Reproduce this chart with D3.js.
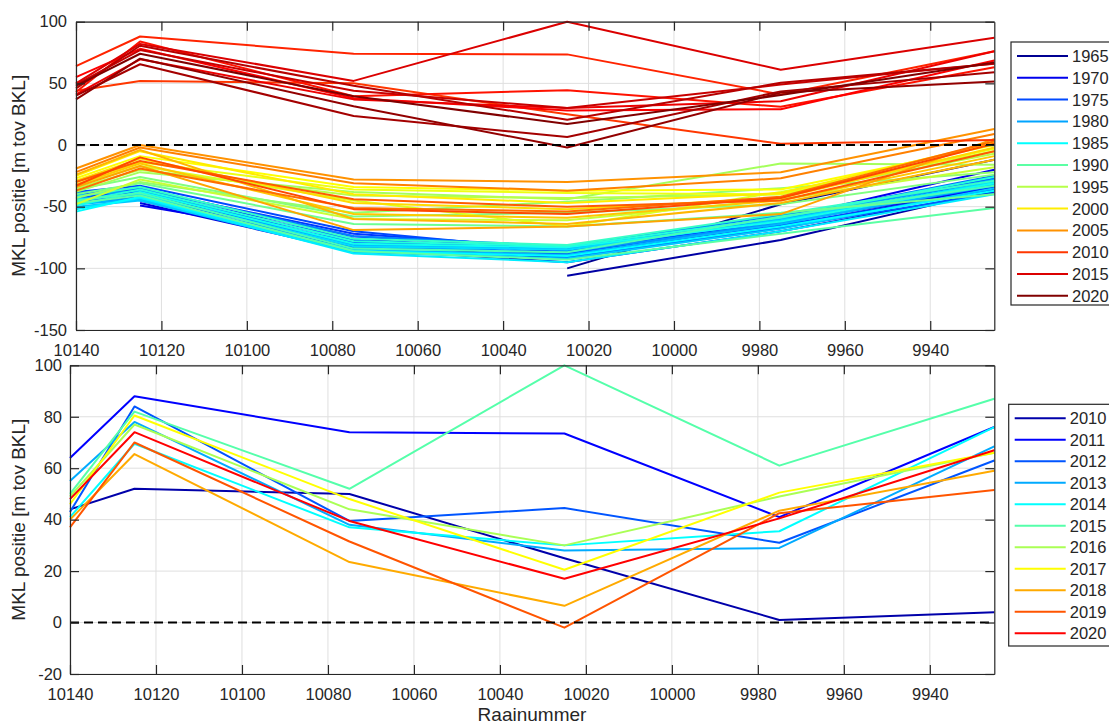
<!DOCTYPE html>
<html>
<head>
<meta charset="utf-8">
<script src="https://cdn.jsdelivr.net/npm/d3@7"></script>
<style>
    body { margin: 0; background: #fff; }
    svg { display: block; font-family: "Liberation Sans", Arial, sans-serif; }
</style>
</head>
<body>
<div id="chart"></div>
<script>
// raai positions (x) and tick values
const positions = [10140, 10125, 10075, 10025, 9975, 9925];
const xTicks = [10140, 10120, 10100, 10080, 10060, 10040, 10020, 10000, 9980, 9960, 9940];
const yTicksTop = [-150, -100, -50, 0, 50, 100];
const yTicksBottom = [-20, 0, 20, 40, 60, 80, 100];
const legendYearsTop = [1965, 1970, 1975, 1980, 1985, 1990, 1995, 2000, 2005, 2010, 2015, 2020];

// MKL positie 1965-2009 [m tov BKL], one row per year, values at positions
const yearsOld = [1965, 1966, 1967, 1968, 1969, 1970, 1971, 1972, 1973, 1974, 1975, 1976, 1977, 1978, 1979,
    1980, 1981, 1982, 1983, 1984, 1985, 1986, 1987, 1988, 1989, 1990, 1991, 1992, 1993, 1994,
    1995, 1996, 1997, 1998, 1999, 2000, 2001, 2002, 2003, 2004, 2005, 2006, 2007, 2008, 2009];
const mklOld = [
    [null, null, null, -100, -48, -12],
    [null, null, null, -106, -77, -37],
    [null, null, -80, -92, -66, -34],
    [null, -45, -84, -95, -70, -38],
    [null, -47, -86, -90, -64, -28],
    [null, -49, -78, -89, -60, -20],
    [-44, -40, -76, -87, -62, -30],
    [-42, -38, -74, -85, -63, -34],
    [-46, -42, -80, -88, -58, -27],
    [-40, -36, -72, -84, -61, -31],
    [-38, -33, -70, -86, -65, -36],
    [-43, -39, -77, -91, -67, -39],
    [-45, -41, -79, -83, -59, -25],
    [-39, -35, -74, -82, -57, -29],
    [-47, -43, -83, -87, -63, -33],
    [-41, -37, -81, -84, -60, -28],
    [-48, -44, -85, -89, -64, -32],
    [-50, -45, -87, -92, -68, -35],
    [-44, -40, -82, -85, -61, -30],
    [-52, -43, -88, -95, -70, -40],
    [-54, -42, -86, -90, -66, -37],
    [-49, -38, -80, -83, -62, -31],
    [-46, -36, -78, -82, -59, -26],
    [-42, -34, -76, -81, -56, -29],
    [-45, -39, -84, -87, -58, -33],
    [-47, -41, -86, -93, -72, -51],
    [-40, -31, -64, -66, -55, -40],
    [-36, -26, -58, -55, -48, -24],
    [-43, -30, -55, -46, -35, -22],
    [-38, -22, -38, -44, -15, -16],
    [-35, -20, -41, -43, -40, -7],
    [-48, -28, -60, -61, -44, -18],
    [-33, -17, -45, -66, -38, -5],
    [-30, -14, -36, -39, -40, -3],
    [-27, -9, -34, -37, -36, 0],
    [-25, -5, -40, -47, -39, 2],
    [-29, -11, -47, -52, -43, -2],
    [-32, -15, -56, -59, -45, -9],
    [-24, -4, -60, -64, -47, -12],
    [-34, -17, -69, -66, -56, 5],
    [-19, 0, -28, -30, -22, 13],
    [-22, -2, -31, -37, -27, 9],
    [-37, -19, -51, -54, -42, 3],
    [-30, -13, -44, -50, -45, -5],
    [-33, -10, -52, -56, -43, 1]
];

// MKL positie 2010-2020 [m tov BKL]
const yearsNew = [2010, 2011, 2012, 2013, 2014, 2015, 2016, 2017, 2018, 2019, 2020];
const mklNew = [
    [44, 52, 50, 25, 1, 4],
    [64, 88, 74, 73.5, 41, 76],
    [43, 84, 39.5, 44.5, 31, 63],
    [55, 78, 38, 28, 29, 68.5],
    [41, 69.5, 37, 30, 35.5, 76],
    [50, 82, 52, 100, 61, 87],
    [49, 77, 44, 30, 49, 66],
    [46, 80.5, 48, 20.5, 50.5, 66],
    [40, 65.5, 23.5, 6.5, 43.5, 59],
    [37, 70, 31.5, -2, 42.5, 51.5],
    [48, 74, 39.5, 17, 40.5, 67]
];

// matlab style jet(m)
function jet(m) {
    const n = Math.ceil(m / 4);
    const u = [];
    for (let i = 1; i <= n; i++) u.push(i / n);
    for (let i = 1; i < n; i++) u.push(1);
    for (let i = n; i >= 1; i--) u.push(i / n);
    const off = Math.ceil(n / 2) - (m % 4 === 1 ? 1 : 0);
    const J = d3.range(m).map(() => [0, 0, 0]);
    const g = u.map((_, i) => off + i + 1).filter(v => v <= m);
    const r = g.map(v => v + n).filter(v => v <= m);
    const b = u.map((_, i) => off + i + 1 - n).filter(v => v >= 1);
    r.forEach((idx, i) => J[idx - 1][0] = u[i]);
    g.forEach((idx, i) => J[idx - 1][1] = u[i]);
    b.forEach((idx, i) => J[idx - 1][2] = u[u.length - b.length + i]);
    return J.map(c => d3.rgb(c[0] * 255, c[1] * 255, c[2] * 255).formatHex());
}

const jetAll = jet(2020 - 1965 + 1);
const jetNew = jet(yearsNew.length);
const ink = '#262626';
const plain = d => String(d);   // hyphen minus like matlab

const svg = d3.select('#chart')
    .append('svg')
    .attr('width', 1109)
    .attr('height', 726);

function panel(cfg) {
    const x = d3.scaleLinear().domain([10140, 9925]).range([cfg.left, 994.3]);
    const y = d3.scaleLinear().domain(cfg.yDomain).range([cfg.bottom, cfg.top]);
    const g = svg.append('g');

    // grid
    g.selectAll('.gx').data(xTicks).enter().append('line')
        .attr('x1', d => x(d)).attr('x2', d => x(d))
        .attr('y1', cfg.top).attr('y2', cfg.bottom)
        .attr('stroke', '#dfdfdf').attr('stroke-width', 1);
    g.selectAll('.gy').data(cfg.yTicks).enter().append('line')
        .attr('x1', cfg.left).attr('x2', 994.3)
        .attr('y1', d => y(d)).attr('y2', d => y(d))
        .attr('stroke', '#dfdfdf').attr('stroke-width', 1);

    const line = d3.line()
        .defined(d => d[1] != null)
        .x(d => x(d[0]))
        .y(d => y(d[1]));

    g.selectAll('.series').data(cfg.series).enter().append('path')
        .attr('d', s => line(positions.map((p, i) => [p, s.values[i]])))
        .attr('fill', 'none')
        .attr('stroke', s => s.color)
        .attr('stroke-width', 2)
        .attr('stroke-linejoin', 'round');

    g.append('line')
        .attr('x1', cfg.left).attr('x2', 994.3)
        .attr('y1', y(0)).attr('y2', y(0))
        .attr('stroke', '#000').attr('stroke-width', 2)
        .attr('stroke-dasharray', '9,5');

    const axes = [
        g.append('g').attr('transform', `translate(0,${cfg.bottom})`)
            .call(d3.axisBottom(x).tickValues(xTicks).tickFormat(plain)
                .tickSizeInner(-9).tickSizeOuter(0).tickPadding(14)),
        g.append('g').attr('transform', `translate(0,${cfg.top})`)
            .call(d3.axisTop(x).tickValues(xTicks).tickFormat('')
                .tickSizeInner(-9).tickSizeOuter(0)),
        g.append('g').attr('transform', `translate(${cfg.left},0)`)
            .call(d3.axisLeft(y).tickValues(cfg.yTicks).tickFormat(plain)
                .tickSizeInner(-9).tickSizeOuter(0).tickPadding(cfg.pad)),
        g.append('g').attr('transform', 'translate(994.3,0)')
            .call(d3.axisRight(y).tickValues(cfg.yTicks).tickFormat('')
                .tickSizeInner(-9).tickSizeOuter(0))
    ];
    axes.forEach(a => {
        a.attr('font-family', null).attr('font-size', 16.5);
        a.select('.domain').attr('stroke', ink).attr('stroke-width', 1.2);
        a.selectAll('.tick line').attr('stroke', ink).attr('stroke-width', 1.2);
        a.selectAll('.tick text').attr('fill', ink);
    });

    g.append('text')
        .attr('transform', `translate(25,${(cfg.top + cfg.bottom) / 2}) rotate(-90)`)
        .attr('text-anchor', 'middle')
        .attr('fill', ink)
        .style('font-size', '19px')
        .text('MKL positie [m tov BKL]');

    // legend
    const lg = svg.append('g');
    lg.append('rect')
        .attr('x', cfg.lx).attr('y', cfg.ly)
        .attr('width', 120).attr('height', cfg.lh)
        .attr('fill', '#fff').attr('stroke', ink).attr('stroke-width', 1.2);
    const items = lg.selectAll('.item').data(cfg.legend).enter().append('g')
        .attr('transform', (d, i) => `translate(${cfg.lx},${cfg.ly + cfg.l0 + i * cfg.ldy})`);
    items.append('line')
        .attr('x1', 6).attr('x2', 57)
        .attr('stroke', d => d.color).attr('stroke-width', 2);
    items.append('text')
        .attr('x', 61).attr('y', 6)
        .attr('fill', ink)
        .style('font-size', '16.5px')
        .text(d => d.year);
}

const seriesTop = yearsOld.map((yr, i) => ({ year: yr, values: mklOld[i], color: jetAll[yr - 1965] }))
    .concat(yearsNew.map((yr, i) => ({ year: yr, values: mklNew[i], color: jetAll[yr - 1965] })));

panel({
    left: 76, top: 21.7, bottom: 330, pad: 9,
    yDomain: [-150, 100], yTicks: yTicksTop,
    series: seriesTop,
    legend: legendYearsTop.map(yr => ({ year: yr, color: jetAll[yr - 1965] })),
    lx: 1011, ly: 42, lh: 263, l0: 14, ldy: 21.8
});

panel({
    left: 70, top: 365.3, bottom: 674, pad: 8,
    yDomain: [-20, 100], yTicks: yTicksBottom,
    series: yearsNew.map((yr, i) => ({ year: yr, values: mklNew[i], color: jetNew[i] })),
    legend: yearsNew.map((yr, i) => ({ year: yr, color: jetNew[i] })),
    lx: 1008.7, ly: 404.3, lh: 241.7, l0: 14, ldy: 21.5
});

svg.append('text')
    .attr('x', 532).attr('y', 721)
    .attr('text-anchor', 'middle')
    .attr('fill', ink)
    .style('font-size', '19px')
    .text('Raainummer');
</script>
</body>
</html>
